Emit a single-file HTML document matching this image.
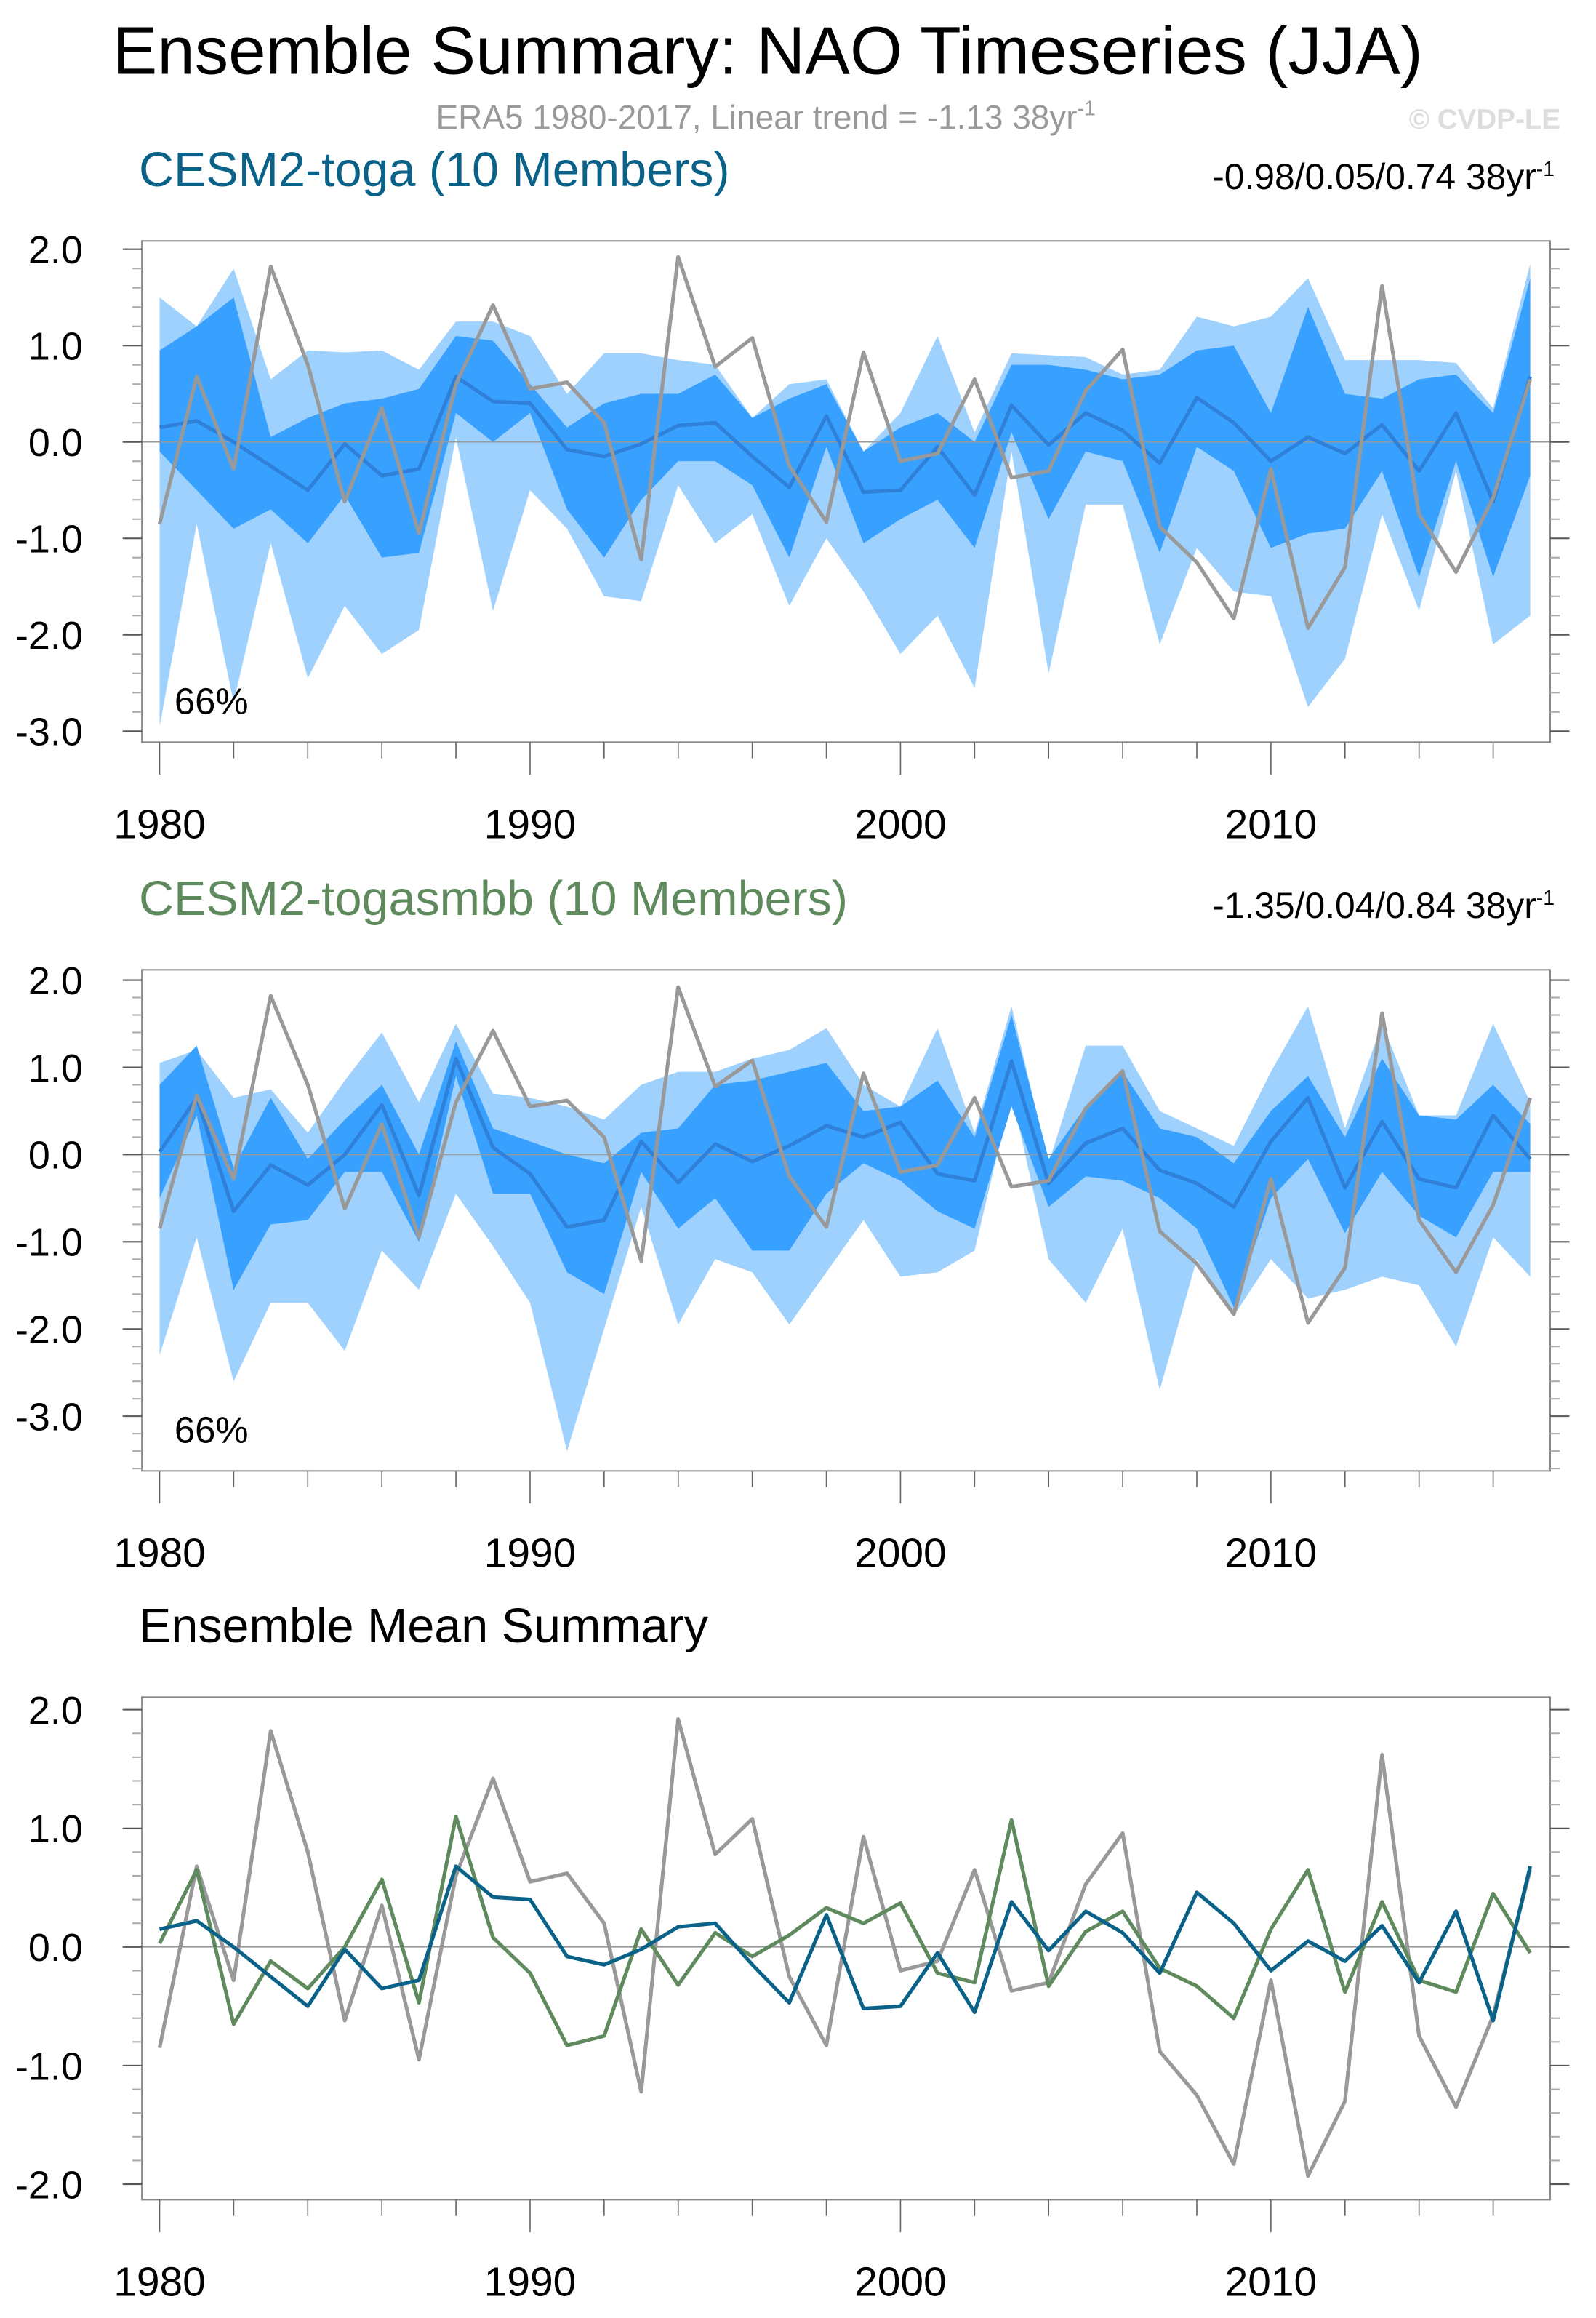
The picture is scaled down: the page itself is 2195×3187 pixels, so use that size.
<!DOCTYPE html>
<html><head><meta charset="utf-8"><style>
html,body{margin:0;padding:0;background:#fff}
svg{display:block}
text{font-family:"Liberation Sans",sans-serif}
</style></head><body>
<svg id="chart" xmlns="http://www.w3.org/2000/svg" width="2195" height="3187" viewBox="0 0 1080 1568" preserveAspectRatio="none">
<text x="76" y="50" font-size="45.6" fill="#000">Ensemble Summary: NAO Timeseries (JJA)</text>
<text x="295" y="87" font-size="22.6" fill="#999">ERA5 1980-2017, Linear trend = -1.13 38yr<tspan font-size="14" dy="-9">-1</tspan></text>
<text x="1056" y="87" font-size="19" fill="#ddd" text-anchor="end" font-weight="bold">© CVDP-LE</text>
<text x="94" y="126" font-size="32.7" fill="#0a6289">CESM2-toga (10 Members)</text>
<text x="1052" y="128" font-size="24.5" fill="#000" text-anchor="end">-0.98/0.05/0.74 38yr<tspan font-size="14" dy="-9">-1</tspan></text>
<text x="94" y="619" font-size="32.7" fill="#5e8a5e">CESM2-togasmbb (10 Members)</text>
<text x="1052" y="621" font-size="24.5" fill="#000" text-anchor="end">-1.35/0.04/0.84 38yr<tspan font-size="14" dy="-9">-1</tspan></text>
<text x="94" y="1111" font-size="32.7" fill="#000">Ensemble Mean Summary</text>
</svg>
<script>
const years=[];for(let y=1980;y<=2017;y++)years.push(y);
const era5=[-0.85,0.68,-0.28,1.82,0.8,-0.62,0.35,-0.95,0.6,1.42,0.55,0.62,0.2,-1.22,1.92,0.78,1.08,-0.25,-0.83,0.93,-0.2,-0.12,0.65,-0.37,-0.3,0.53,0.96,-0.88,-1.25,-1.83,-0.28,-1.93,-1.3,1.62,-0.75,-1.35,-0.58,0.65];
const togaMean=[0.15,0.22,0.0,-0.25,-0.5,-0.02,-0.35,-0.28,0.68,0.42,0.4,-0.08,-0.15,-0.02,0.17,0.2,-0.15,-0.47,0.27,-0.52,-0.5,-0.05,-0.55,0.38,-0.03,0.3,0.12,-0.22,0.46,0.2,-0.2,0.05,-0.12,0.18,-0.3,0.3,-0.62,0.68];
const smbbMean=[0.03,0.65,-0.65,-0.12,-0.35,0.0,0.57,-0.47,1.1,0.08,-0.22,-0.83,-0.75,0.15,-0.32,0.12,-0.08,0.1,0.33,0.2,0.37,-0.22,-0.3,1.07,-0.33,0.13,0.3,-0.18,-0.33,-0.6,0.15,0.65,-0.38,0.38,-0.28,-0.38,0.45,-0.05];
const togaOuterHi=[1.5,1.2,1.8,0.65,0.95,0.93,0.95,0.75,1.25,1.25,1.1,0.5,0.92,0.92,0.85,0.8,0.25,0.6,0.65,-0.1,0.3,1.1,0.1,0.92,0.9,0.88,0.7,0.75,1.3,1.2,1.3,1.7,0.85,0.85,0.85,0.82,0.35,1.85];
const togaOuterLo=[-2.95,-0.85,-2.7,-1.05,-2.45,-1.7,-2.2,-1.95,0.05,-1.75,-0.5,-0.9,-1.6,-1.65,-0.45,-1.05,-0.75,-1.7,-1.0,-1.55,-2.2,-1.8,-2.55,-0.1,-2.4,-0.65,-0.65,-2.1,-1.1,-1.55,-1.6,-2.75,-2.25,-0.75,-1.75,-0.3,-2.1,-1.8];
const togaInnerHi=[0.95,1.2,1.5,0.05,0.25,0.4,0.45,0.55,1.1,1.05,0.6,0.15,0.4,0.5,0.5,0.7,0.25,0.45,0.6,-0.1,0.15,0.3,0.0,0.8,0.8,0.75,0.65,0.7,0.95,1.0,0.3,1.4,0.5,0.45,0.65,0.7,0.3,1.7];
const togaInnerLo=[-0.1,-0.5,-0.9,-0.7,-1.05,-0.55,-1.2,-1.15,0.3,0.0,0.3,-0.7,-1.2,-0.6,-0.2,-0.2,-0.45,-1.2,-0.05,-1.05,-0.8,-0.6,-1.1,0.1,-0.8,-0.1,-0.2,-1.15,-0.05,-0.3,-1.1,-0.95,-0.9,-0.3,-1.4,-0.2,-1.4,-0.35];
const smbbOuterHi=[1.05,1.2,0.65,0.75,0.25,0.85,1.4,0.6,1.5,0.7,0.65,0.55,0.4,0.8,0.95,0.95,1.1,1.2,1.45,0.8,0.55,1.45,0.25,1.7,-0.1,1.25,1.25,0.5,0.3,0.1,0.95,1.7,0.3,1.5,0.45,0.45,1.5,0.6];
const smbbOuterLo=[-2.3,-0.95,-2.6,-1.7,-1.7,-2.25,-1.1,-1.55,-0.45,-1.05,-1.7,-3.4,-2.0,-0.6,-1.95,-1.2,-1.35,-1.95,-1.35,-0.75,-1.4,-1.35,-1.1,0.7,-1.2,-1.7,-0.85,-2.7,-1.2,-1.85,-1.2,-1.65,-1.55,-1.4,-1.5,-2.2,-0.95,-1.4];
const smbbInnerHi=[0.8,1.25,-0.15,0.65,-0.05,0.4,0.8,0.0,1.3,0.3,0.15,0.0,-0.1,0.25,0.3,0.8,0.85,0.95,1.05,0.5,0.55,0.85,0.2,1.6,-0.05,0.55,0.95,0.3,0.2,-0.1,0.5,0.9,0.2,1.1,0.45,0.4,0.8,0.35];
const smbbInnerLo=[-0.5,0.45,-1.55,-0.8,-0.75,-0.2,-0.2,-1.0,0.9,-0.45,-0.45,-1.35,-1.6,-0.2,-0.85,-0.5,-1.1,-1.1,-0.45,-0.1,-0.3,-0.65,-0.85,0.55,-0.6,-0.25,-0.3,-0.5,-0.85,-1.75,-0.5,-0.05,-0.9,-0.2,-0.7,-0.95,-0.2,-0.2];
const xTickLabels=[1980,1990,2000,2010];
const p1Ticks=[2,1,0,-1,-2,-3];
const p3Ticks=[2,1,0,-1,-2];

const svg=document.getElementById('chart');
const NS='http://www.w3.org/2000/svg';
function el(tag,attrs,parent){const e=document.createElementNS(NS,tag);for(const k in attrs)e.setAttribute(k,attrs[k]);(parent||svg).appendChild(e);return e;}
const xScale=y=>108+(y-1980)*25.067;

function panel(name,top,bot,y0,ppu,ticks,bands,lines,label){
  const g=el('g',{});
  
  
  const ys=v=>y0-v*ppu;
  const L=96,R=1049;
  bands.forEach(b=>{
    let d='';
    years.forEach((yr,i)=>{d+=(i?'L':'M')+xScale(yr).toFixed(1)+','+ys(b.hi[i]).toFixed(1);});
    for(let i=years.length-1;i>=0;i--)d+='L'+xScale(years[i]).toFixed(1)+','+ys(b.lo[i]).toFixed(1);
    const p=el('path',{d:d+'Z',fill:b.color,stroke:'none'},g);
    
    
  });
  el('line',{x1:L,x2:R,y1:ys(0),y2:ys(0),stroke:'#999','stroke-width':0.8},g);
  lines.forEach(ln=>{
    const pts=years.map((yr,i)=>xScale(yr).toFixed(1)+','+ys(ln.data[i]).toFixed(1)).join(' ');
    const p=el('polyline',{points:pts,fill:'none',stroke:ln.color,'stroke-width':ln.w,'stroke-linejoin':'round'},g);
    
    
  });
  const box=el('rect',{x:L,y:top,width:R-L,height:bot-top,fill:'none',stroke:'#888','stroke-width':1},g);
  
  
  const vmin=(bot-y0)/-ppu, vmax=(y0-top)/ppu;
  for(let v=Math.ceil(vmin*5)/5;v<=vmax+1e-6;v+=0.2){
    const yy=ys(v);const major=Math.abs(v-Math.round(v))<1e-6;
    const len=major?13:6.5;
    el('line',{x1:L-len,x2:L,y1:yy,y2:yy,stroke:major?'#555':'#aaa','stroke-width':1},g);
    el('line',{x1:R,x2:R+len,y1:yy,y2:yy,stroke:major?'#555':'#aaa','stroke-width':1},g);
  }
  ticks.forEach(v=>{
    const t=el('text',{x:56,y:ys(v)+9.5,'font-size':26.5,'text-anchor':'end',fill:'#000'},g);
    t.textContent=v.toFixed(1);
    
    
  });
  for(let yr=1980;yr<=2016;yr+=2){
    const major=yr%10===0;
    el('line',{x1:xScale(yr),x2:xScale(yr),y1:bot,y2:bot+(major?22:11),stroke:'#666','stroke-width':0.8},g);
  }
  xTickLabels.forEach(yr=>{
    const t=el('text',{x:xScale(yr),y:bot+65,'font-size':28,'text-anchor':'middle',fill:'#000'},g);
    t.textContent=yr;
    
    
  });
  if(label){
    const t=el('text',{x:118,y:bot-19,'font-size':25,fill:'#000'},g);
    t.textContent=label;
    
    
  }
}
panel('panel-cesm2-toga',163,502,299,65.2,p1Ticks,
 [{hi:togaOuterHi,lo:togaOuterLo,color:'#9fd1ff',name:'toga-outer-band'},{hi:togaInnerHi,lo:togaInnerLo,color:'#38a0ff',name:'toga-inner-band'}],
 [{data:togaMean,color:'#2f80d8',w:2.5,name:'toga-ensemble-mean'},{data:era5,color:'#999',w:2.5,name:'era5-line'}],'66%');
panel('panel-cesm2-togasmbb',656,995,781,59,p1Ticks,
 [{hi:smbbOuterHi,lo:smbbOuterLo,color:'#9fd1ff',name:'smbb-outer-band'},{hi:smbbInnerHi,lo:smbbInnerLo,color:'#38a0ff',name:'smbb-inner-band'}],
 [{data:smbbMean,color:'#2f80d8',w:2.5,name:'smbb-ensemble-mean'},{data:era5,color:'#999',w:2.5,name:'era5-line'}],'66%');
panel('panel-ensemble-mean-summary',1148,1488,1317,80.25,p3Ticks,[],
 [{data:era5,color:'#999',w:2.5,name:'era5-line'},{data:smbbMean,color:'#5e8a5e',w:2.5,name:'smbb-mean-line'},{data:togaMean,color:'#0a6289',w:2.5,name:'toga-mean-line'}],null);
</script>
</body></html>
